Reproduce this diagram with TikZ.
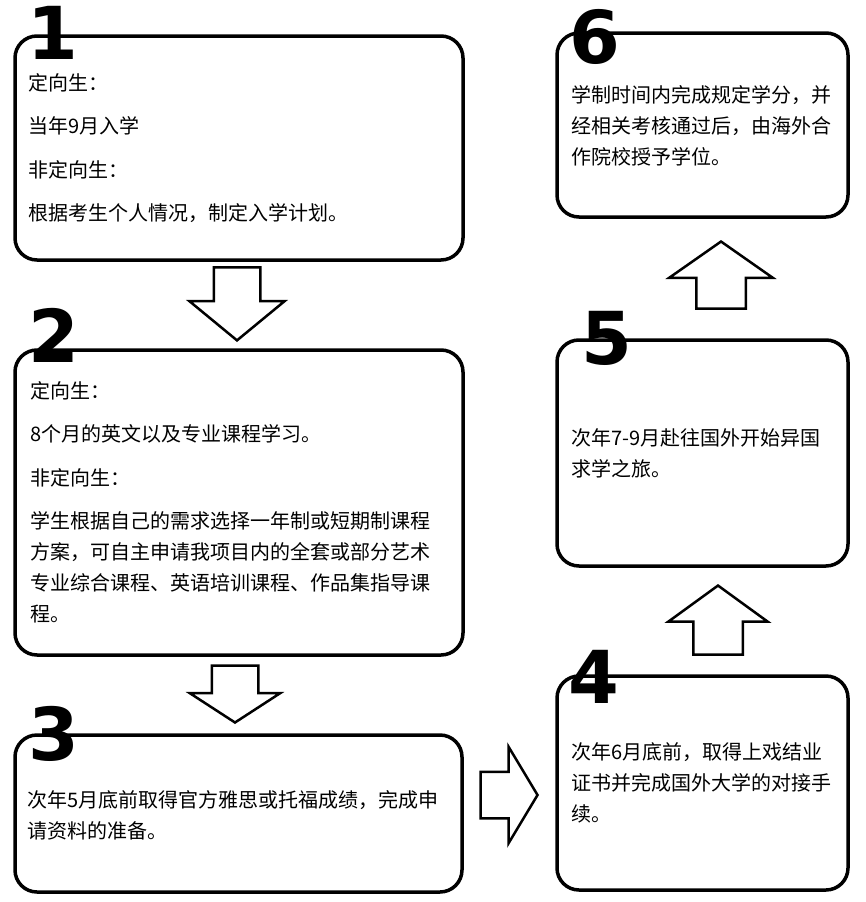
\documentclass[tikz,border=0pt]{standalone}
\usepackage{fontspec}
\setmainfont{Noto Sans CJK SC}
\newfontfamily\stepnumfont{DejaVu Sans}
\usetikzlibrary{shapes.arrows}

\begin{document}
\begin{tikzpicture}[
    x=1pt, y=-1pt,
    every node/.style={font=\fontsize{20pt}{31pt}\selectfont},
    stepBox/.style={rectangle, draw, line width=3.5pt, rounded corners=22pt, inner sep=0pt},
    stepText/.style={anchor=north west, align=left, inner sep=0pt},
    stepNum/.style={font=\stepnumfont\bfseries\fontsize{73pt}{73pt}\selectfont, anchor=base, inner sep=0pt},
    bigArrow/.style={single arrow, draw, line width=2.5pt, fill=white, single arrow head indent=0pt, anchor=tip}
]
    \useasboundingbox (0,0) rectangle (866,902);

% -------------------------
% Boxes - left column
% -------------------------
    \node[stepBox, minimum width=448pt, minimum height=224pt] (b1) at (239,148) {};
    \node[stepBox, minimum width=448pt, minimum height=305pt] (b2) at (239,502.5) {};
    \node[stepBox, minimum width=447pt, minimum height=157pt] (b3) at (238.5,813.5) {};

% -------------------------
% Boxes - right column
% -------------------------
    \node[stepBox, minimum width=291pt, minimum height=214pt] (b4) at (702.5,783) {};
    \node[stepBox, minimum width=291pt, minimum height=226pt] (b5) at (702.5,453) {};
    \node[stepBox, minimum width=291pt, minimum height=184pt] (b6) at (702.5,125) {};

% -------------------------
% Step numbers
% -------------------------
    \node[stepNum] (n1) at (53,59) {1};
    \node[stepNum] (n2) at (54,362) {2};
    \node[stepNum] (n3) at (54,760) {3};
    \node[stepNum] (n4) at (594,703) {4};
    \node[stepNum] (n5) at (607,364) {5};
    \node[stepNum] (n6) at (595,63) {6};

% -------------------------
% Texts
% -------------------------
    \node[stepText] (t1) at (28,73) {定向生：\\[12.5pt]当年9月入学\\[12.5pt]非定向生：\\[12.5pt]根据考生个人情况，制定入学计划。};
    \node[stepText] (t2) at (30,381) {定向生：\\[12.5pt]8个月的英文以及专业课程学习。\\[12.5pt]非定向生：\\[12.5pt]学生根据自己的需求选择一年制或短期制课程\\方案，可自主申请我项目内的全套或部分艺术\\专业综合课程、英语培训课程、作品集指导课\\程。};
    \node[stepText] (t3) at (27,790) {次年5月底前取得官方雅思或托福成绩，完成申\\请资料的准备。};
    \node[stepText] (t4) at (571,742) {次年6月底前，取得上戏结业\\证书并完成国外大学的对接手\\续。};
    \node[stepText] (t5) at (571,428) {次年7-9月赴往国外开始异国\\求学之旅。};
    \node[stepText] (t6) at (571,85) {学制时间内完成规定学分，并\\经相关考核通过后，由海外合\\作院校授予学位。};

% -------------------------
% Block arrows
% -------------------------
    \node[bigArrow, shape border rotate=270, inner xsep=22pt, inner ysep=0pt, minimum height=73pt, minimum width=93pt,
          single arrow head extend=24.5pt, single arrow tip angle=101] (a12) at (237,342) {};
    \node[bigArrow, shape border rotate=270, inner xsep=22pt, inner ysep=0pt, minimum height=57pt, minimum width=88pt,
          single arrow head extend=22pt, single arrow tip angle=114] (a23) at (235,724) {};
    \node[bigArrow, inner xsep=0pt, inner ysep=22pt, minimum height=57pt, minimum width=94pt,
          single arrow head extend=25pt, single arrow tip angle=118] (a34) at (539,795) {};
    \node[bigArrow, shape border rotate=90, inner xsep=23.5pt, inner ysep=0pt, minimum height=69pt, minimum width=97pt,
          single arrow head extend=25pt, single arrow tip angle=108] (a45) at (718,584) {};
    \node[bigArrow, shape border rotate=90, inner xsep=23.5pt, inner ysep=0pt, minimum height=67pt, minimum width=101pt,
          single arrow head extend=27pt, single arrow tip angle=110] (a56) at (721,240) {};
\end{tikzpicture}
\end{document}
